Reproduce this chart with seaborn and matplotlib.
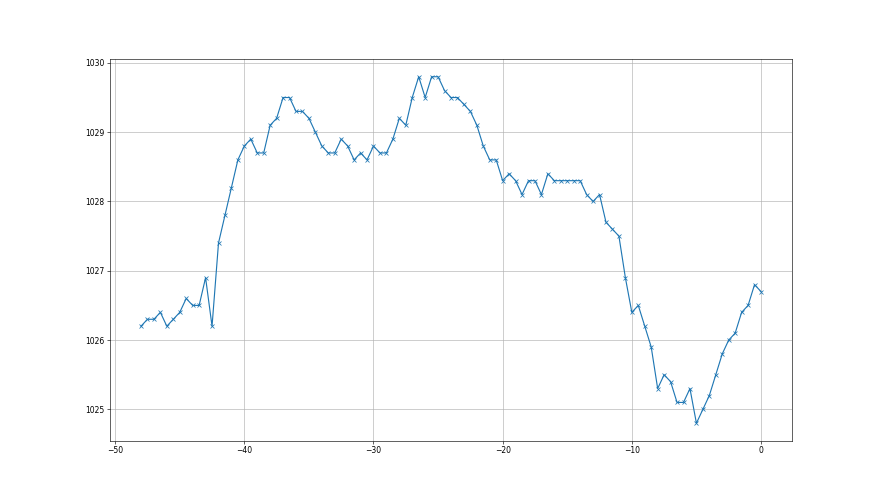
import numpy as np
import pandas as pd
import matplotlib
matplotlib.use("Agg")
import matplotlib.pyplot as plt
import seaborn as sns

# hours relative to now, one reading every half hour
hours = np.arange(-48, 0.5, 0.5)

# pressure readings (hPa)
pressure = [
    1026.2, 1026.3, 1026.3, 1026.4, 1026.2, 1026.3, 1026.4, 1026.6, 1026.5, 1026.5,
    1026.9, 1026.2, 1027.4, 1027.8, 1028.2, 1028.6, 1028.8, 1028.9, 1028.7, 1028.7,
    1029.1, 1029.2, 1029.5, 1029.5, 1029.3, 1029.3, 1029.2, 1029.0, 1028.8, 1028.7,
    1028.7, 1028.9, 1028.8, 1028.6, 1028.7, 1028.6, 1028.8, 1028.7, 1028.7, 1028.9,
    1029.2, 1029.1, 1029.5, 1029.8, 1029.5, 1029.8, 1029.8, 1029.6, 1029.5, 1029.5,
    1029.4, 1029.3, 1029.1, 1028.8, 1028.6, 1028.6, 1028.3, 1028.4, 1028.3, 1028.1,
    1028.3, 1028.3, 1028.1, 1028.4, 1028.3, 1028.3, 1028.3, 1028.3, 1028.3, 1028.1,
    1028.0, 1028.1, 1027.7, 1027.6, 1027.5, 1026.9, 1026.4, 1026.5, 1026.2, 1025.9,
    1025.3, 1025.5, 1025.4, 1025.1, 1025.1, 1025.3, 1024.8, 1025.0, 1025.2, 1025.5,
    1025.8, 1026.0, 1026.1, 1026.4, 1026.5, 1026.8, 1026.7,
]

df = pd.DataFrame({"hours": hours, "pressure": pressure})

fig, ax = plt.subplots(figsize=(16, 9), dpi=55)

sns.lineplot(data=df, x="hours", y="pressure", ax=ax, marker="x",
             color="C0", linewidth=1.5, markersize=6,
             markeredgecolor="C0", markeredgewidth=1.0)

ax.set_xlabel("")
ax.set_ylabel("")
ax.grid(True)

fig.savefig("out.png", dpi=55)
